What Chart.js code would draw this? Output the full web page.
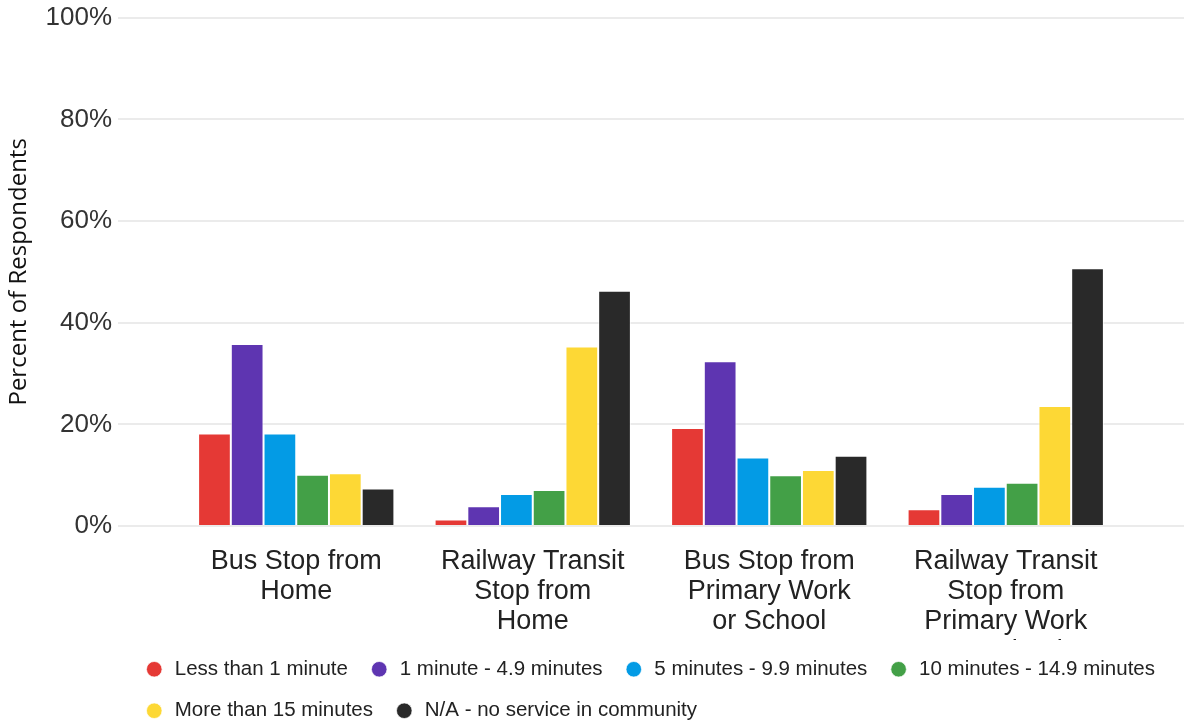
<!DOCTYPE html>
<html>
<head>
<meta charset="utf-8">
<script src="https://cdn.jsdelivr.net/npm/chart.js@4"></script>
<style>
  html, body { margin: 0; padding: 0; background: #fff; }
  #wrap { width: 1186px; height: 723px; }
</style>
</head>
<body>
<div id="wrap"><canvas id="chart"></canvas></div>
<script>
// categories and series (percent of respondents)
const categories = [
    ['Bus Stop from', 'Home'],
    ['Railway Transit', 'Stop from', 'Home'],
    ['Bus Stop from', 'Primary Work', 'or School'],
    ['Railway Transit', 'Stop from', 'Primary Work', 'or School']
];
const seriesNames = ['Less than 1 minute', '1 minute - 4.9 minutes', '5 minutes - 9.9 minutes',
    '10 minutes - 14.9 minutes', 'More than 15 minutes', 'N/A - no service in community'];
const lessThan1 = [18.2, 1.3, 19.3, 3.3];
const oneTo5 = [35.8, 3.9, 32.4, 6.3];
const fiveTo10 = [18.2, 6.3, 13.5, 7.7];
const tenTo15 = [10.1, 7.1, 10.0, 8.5];
const moreThan15 = [10.4, 35.3, 11.0, 23.6];
const noService = [7.4, 46.3, 13.8, 50.7];
const yTicks = [0, 20, 40, 60, 80, 100];

const seriesValues = [lessThan1, oneTo5, fiveTo10, tenTo15, moreThan15, noService];
const colors = ['#e53935', '#5e35b1', '#039be5', '#43a047', '#fdd835', '#292929'];

// shift the legend so its rows start under the plot like the original
const legendShift = {
    id: 'legendShift',
    beforeDraw(chart) {
        const lg = chart.legend;
        if (!lg) return;
        lg.left = 123;
        lg.right = 123 + 1120;
        lg.top -= 2;
    }
};

const ctx = document.getElementById('chart').getContext('2d');
new Chart(ctx, {
    type: 'bar',
    data: {
        labels: categories,
        datasets: seriesNames.map((name, i) => ({
            label: name,
            data: seriesValues[i],
            backgroundColor: colors[i],
            borderColor: 'rgba(255,255,255,0.7)',
            borderWidth: 1,
            categoryPercentage: 0.83,
            barPercentage: 1.0
        }))
    },
    options: {
        responsive: true,
        maintainAspectRatio: false,
        animation: false,
        layout: { padding: 0 },
        plugins: {
            tooltip: { enabled: false },
            legend: {
                position: 'bottom',
                align: 'start',
                maxHeight: 83,
                labels: {
                    usePointStyle: true,
                    pointStyle: 'circle',
                    boxHeight: 11,
                    padding: 21,
                    color: '#222',
                    font: { family: 'Liberation Sans, Arial, sans-serif', size: 20.5 }
                }
            }
        },
        scales: {
            x: {
                afterFit(scale) { scale.height = 114; },
                grid: { display: false, drawTicks: false },
                border: { display: false },
                ticks: {
                    padding: 21,
                    color: '#222',
                    maxRotation: 0,
                    font: { family: 'Liberation Sans, Arial, sans-serif', size: 27, lineHeight: '30px' }
                }
            },
            y: {
                min: 0,
                max: 100,
                afterBuildTicks(scale) { scale.ticks = yTicks.map(v => ({ value: v })); },
                afterFit(scale) { scale.width = 178; },
                grid: { color: '#ebebeb', lineWidth: 2, tickLength: 60 },
                border: { display: false },
                ticks: {
                    padding: 6,
                    color: '#333',
                    font: { family: 'Liberation Sans, Arial, sans-serif', size: 26, lineHeight: 0.9 },
                    callback: v => v + '%'
                },
                title: {
                    display: true,
                    text: 'Percent of Respondents',
                    color: '#111',
                    padding: { top: 5, bottom: 0 },
                    font: { family: 'Open Sans, sans-serif', size: 24 }
                }
            },
            y2: {
                position: 'right',
                min: 0,
                max: 100,
                afterBuildTicks(scale) { scale.ticks = yTicks.map(v => ({ value: v })); },
                afterFit(scale) { scale.width = 62; },
                grid: { color: '#ebebeb', lineWidth: 2, tickLength: 60, drawOnChartArea: false },
                border: { display: false },
                ticks: { display: false }
            }
        }
    },
    plugins: [legendShift]
});
</script>
</body>
</html>
